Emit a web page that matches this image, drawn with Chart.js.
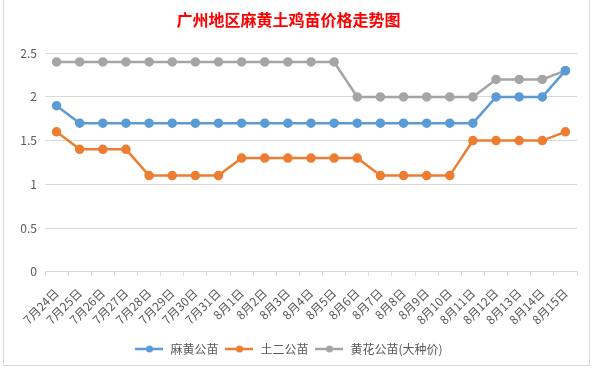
<!DOCTYPE html>
<html lang="zh">
<head>
<meta charset="UTF-8" />
<title>广州地区麻黄土鸡苗价格走势图</title>
<script src="https://cdn.jsdelivr.net/npm/chart.js"></script>
<style>
    body { margin: 0; background: #fff; }
    .frame {
        position: absolute; left: 3px; top: -2px; width: 587px; height: 368px;
        border: 1px solid #d9d9d9; box-sizing: border-box;
    }
    .wrap { position: absolute; left: 0; top: 0; width: 594px; height: 371px; }
</style>
</head>
<body>
<div class="frame"></div>
<div class="wrap"><canvas id="priceChart"></canvas></div>
<script>
    // 日期
    const dates = [
        '7月24日', '7月25日', '7月26日', '7月27日', '7月28日', '7月29日', '7月30日', '7月31日',
        '8月1日', '8月2日', '8月3日', '8月4日', '8月5日', '8月6日', '8月7日', '8月8日',
        '8月9日', '8月10日', '8月11日', '8月12日', '8月13日', '8月14日', '8月15日'
    ];
    // 三个品种价格
    const mahuang = [1.9, 1.7, 1.7, 1.7, 1.7, 1.7, 1.7, 1.7, 1.7, 1.7, 1.7, 1.7, 1.7, 1.7, 1.7, 1.7, 1.7, 1.7, 1.7, 2.0, 2.0, 2.0, 2.3];
    const tuer = [1.6, 1.4, 1.4, 1.4, 1.1, 1.1, 1.1, 1.1, 1.3, 1.3, 1.3, 1.3, 1.3, 1.3, 1.1, 1.1, 1.1, 1.1, 1.5, 1.5, 1.5, 1.5, 1.6];
    const huanghua = [2.4, 2.4, 2.4, 2.4, 2.4, 2.4, 2.4, 2.4, 2.4, 2.4, 2.4, 2.4, 2.4, 2.0, 2.0, 2.0, 2.0, 2.0, 2.0, 2.2, 2.2, 2.2, 2.3];
    const yTicks = [0, 0.5, 1, 1.5, 2, 2.5];

    const font = "'Noto Sans CJK SC', 'Noto Sans', sans-serif";

    // 图例用的小图标：线段加圆点
    function legendIcon(color) {
        const c = document.createElement('canvas');
        c.width = 28;
        c.height = 10;
        const g = c.getContext('2d');
        g.strokeStyle = color;
        g.lineWidth = 2.5;
        g.beginPath();
        g.moveTo(0, 5);
        g.lineTo(28, 5);
        g.stroke();
        g.fillStyle = color;
        g.beginPath();
        g.arc(14, 5, 3.5, 0, Math.PI * 2);
        g.fill();
        return c;
    }

    function series(label, data, color) {
        return {
            label: label,
            data: data,
            borderColor: color,
            backgroundColor: color,
            borderWidth: 2.5,
            pointRadius: 3.5,
            pointHoverRadius: 4,
            pointStyle: 'circle',
            tension: 0,
            legendIcon: legendIcon(color),
        };
    }

    new Chart(document.getElementById('priceChart'), {
        type: 'line',
        data: {
            labels: dates,
            datasets: [
                series('麻黄公苗', mahuang, '#5B9BD5'),
                series('土二公苗', tuer, '#ED7D31'),
                series('黄花公苗(大种价)', huanghua, '#A5A5A5'),
            ],
        },
        options: {
            responsive: true,
            maintainAspectRatio: false,
            animation: false,
            layout: { padding: { left: 0, right: 17, top: 4, bottom: 6 } },
            plugins: {
                title: {
                    display: true,
                    text: '广州地区麻黄土鸡苗价格走势图',
                    color: '#FF0000',
                    font: { family: font, size: 16, weight: 'bold' },
                    padding: { top: 6, bottom: 24 },
                },
                legend: {
                    position: 'bottom',
                    labels: {
                        color: '#595959',
                        font: { family: font, size: 12 },
                        usePointStyle: true,
                        pointStyleWidth: 30,
                        padding: 6,
                        generateLabels: (chart) =>
                            chart.data.datasets.map((ds, i) => ({
                                text: ds.label,
                                fontColor: '#595959',
                                pointStyle: ds.legendIcon,
                                datasetIndex: i,
                                hidden: false,
                                lineWidth: 0,
                            })),
                    },
                },
                tooltip: { enabled: false },
            },
            scales: {
                x: {
                    offset: true,
                    grid: { display: true, drawOnChartArea: false, offset: true, color: '#d9d9d9', tickLength: 4 },
                    border: { color: '#d9d9d9' },
                    ticks: {
                        color: '#595959',
                        font: { family: font, size: 12 },
                        maxRotation: 45,
                        minRotation: 45,
                        autoSkip: false,
                        padding: 10,
                    },
                },
                y: {
                    min: 0,
                    max: 2.5,
                    afterBuildTicks: (axis) => { axis.ticks = yTicks.map((v) => ({ value: v })); },
                    afterFit: (axis) => { axis.width = 45; },
                    grid: { color: '#d9d9d9', drawTicks: false },
                    border: { display: false },
                    ticks: {
                        color: '#595959',
                        font: { family: font, size: 12 },
                        padding: 8,
                        callback: (v) => String(v),
                    },
                },
            },
        },
    });
</script>
</body>
</html>
